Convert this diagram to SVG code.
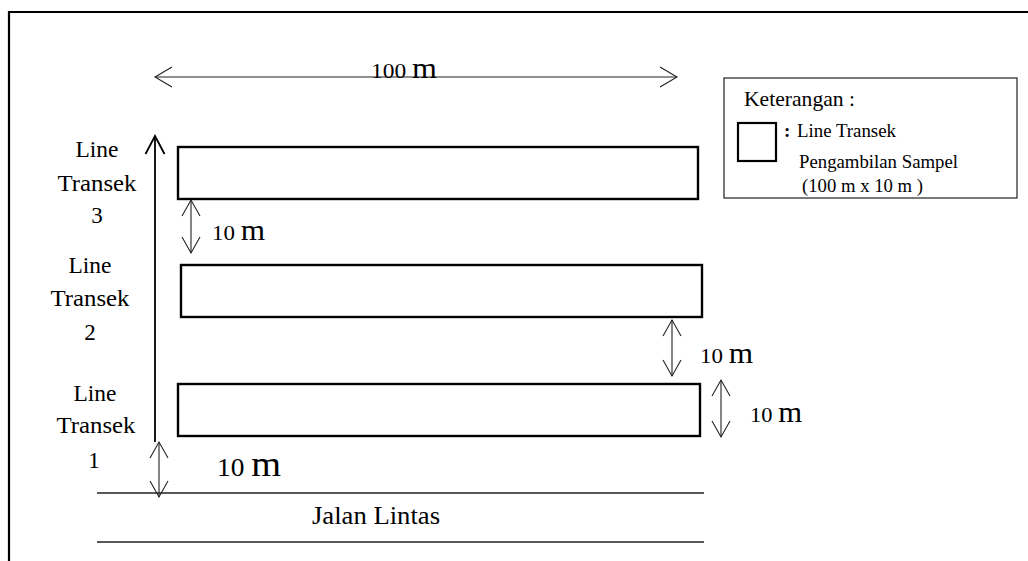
<svg xmlns="http://www.w3.org/2000/svg" width="1028" height="561" viewBox="0 0 1028 561">
<style>
text{font-family:"Liberation Serif","Times New Roman",serif;fill:#000}
.lbl{font-size:23px;text-anchor:middle}
.rect{fill:#fff;stroke:#000;stroke-width:2.4}
.thin{fill:none;stroke:#222;stroke-width:1.1}
.head{fill:none;stroke:#222;stroke-width:1.1;stroke-linejoin:miter}
.dig{font-size:22px}
.m{font-size:30px}
.leg{font-size:18.5px}
</style>
<rect width="1028" height="561" fill="#fff"/>
<g id="frame">
<line x1="9" y1="12" x2="1028" y2="12" stroke="#000" stroke-width="2.2"/>
<line x1="9" y1="11" x2="9" y2="561" stroke="#000" stroke-width="2.2"/>
</g>
<g id="transect3"><rect class="rect" x="178" y="147" width="520" height="52"/>
<text class="lbl" x="97" y="157" textLength="43" lengthAdjust="spacingAndGlyphs">Line</text>
<text class="lbl" x="97" y="191" textLength="79" lengthAdjust="spacingAndGlyphs">Transek</text>
<text class="lbl" x="97" y="223">3</text></g>
<g id="transect2"><rect class="rect" x="181" y="265" width="521" height="52"/>
<text class="lbl" x="90" y="273" textLength="43" lengthAdjust="spacingAndGlyphs">Line</text>
<text class="lbl" x="90" y="306" textLength="79" lengthAdjust="spacingAndGlyphs">Transek</text>
<text class="lbl" x="90" y="340">2</text></g>
<g id="transect1"><rect class="rect" x="178" y="384" width="522" height="52"/>
<text class="lbl" x="95" y="401" textLength="43" lengthAdjust="spacingAndGlyphs">Line</text>
<text class="lbl" x="96" y="433" textLength="79" lengthAdjust="spacingAndGlyphs">Transek</text>
<text class="lbl" x="94" y="468">1</text></g>
<g id="road">
<line x1="97" y1="493" x2="704" y2="493" stroke="#222" stroke-width="1.3"/>
<line x1="97" y1="542" x2="704" y2="542" stroke="#222" stroke-width="1.3"/>
<text x="312" y="524" font-size="25" textLength="128" lengthAdjust="spacingAndGlyphs">Jalan Lintas</text>
</g>
<g id="legend">
<rect x="724" y="78" width="293" height="120" fill="#fff" stroke="#222" stroke-width="1.2"/>
<rect x="738" y="123" width="38" height="38" fill="#fff" stroke="#000" stroke-width="2.2"/>
<text x="744" y="106" font-size="21" textLength="111" lengthAdjust="spacingAndGlyphs">Keterangan :</text>
<text x="784" y="137" font-size="19" font-weight="bold">:</text>
<text class="leg" x="797" y="137" textLength="99" lengthAdjust="spacingAndGlyphs">Line Transek</text>
<text class="leg" x="799" y="168" textLength="159" lengthAdjust="spacingAndGlyphs">Pengambilan Sampel</text>
<text class="leg" x="802" y="192" textLength="121" lengthAdjust="spacingAndGlyphs">(100 m x 10 m )</text>
</g>
<g id="connectors">
<line x1="155" y1="137" x2="155" y2="442" stroke="#000" stroke-width="1.8"/>
<polyline points="145.5,154 155,136 164.5,154" fill="none" stroke="#000" stroke-width="1.8"/>
<line class="thin" x1="155" y1="77" x2="677" y2="77"/>
<polyline class="head" points="172,67 155,77 172,87"/>
<polyline class="head" points="660,67 677,77 660,87"/>
<line class="thin" x1="191" y1="200" x2="191" y2="253"/>
<polyline class="head" points="182,216 191,200 200,216"/>
<polyline class="head" points="182,237 191,253 200,237"/>
<line class="thin" x1="672" y1="320" x2="672" y2="376"/>
<polyline class="head" points="663,336 672,320 681,336"/>
<polyline class="head" points="663,360 672,376 681,360"/>
<line class="thin" x1="721" y1="380" x2="721" y2="437"/>
<polyline class="head" points="712,396 721,380 730,396"/>
<polyline class="head" points="712,421 721,437 730,421"/>
<line class="thin" x1="159" y1="442" x2="159" y2="497"/>
<polyline class="head" points="150,458 159,442 168,458"/>
<polyline class="head" points="150,481 159,497 168,481"/>
</g>
<g id="labels">
<text x="371" y="78" textLength="66" lengthAdjust="spacingAndGlyphs"><tspan class="dig">100 </tspan><tspan class="m">m</tspan></text>
<text x="212" y="240" textLength="53" lengthAdjust="spacingAndGlyphs"><tspan class="dig">10 </tspan><tspan class="m">m</tspan></text>
<text x="700" y="363" textLength="53" lengthAdjust="spacingAndGlyphs"><tspan class="dig">10 </tspan><tspan class="m">m</tspan></text>
<text x="750" y="422" textLength="52" lengthAdjust="spacingAndGlyphs"><tspan class="dig">10 </tspan><tspan class="m">m</tspan></text>
<text x="217" y="476" textLength="64" lengthAdjust="spacingAndGlyphs"><tspan font-size="25">10 </tspan><tspan font-size="35">m</tspan></text>
</g>
</svg>
